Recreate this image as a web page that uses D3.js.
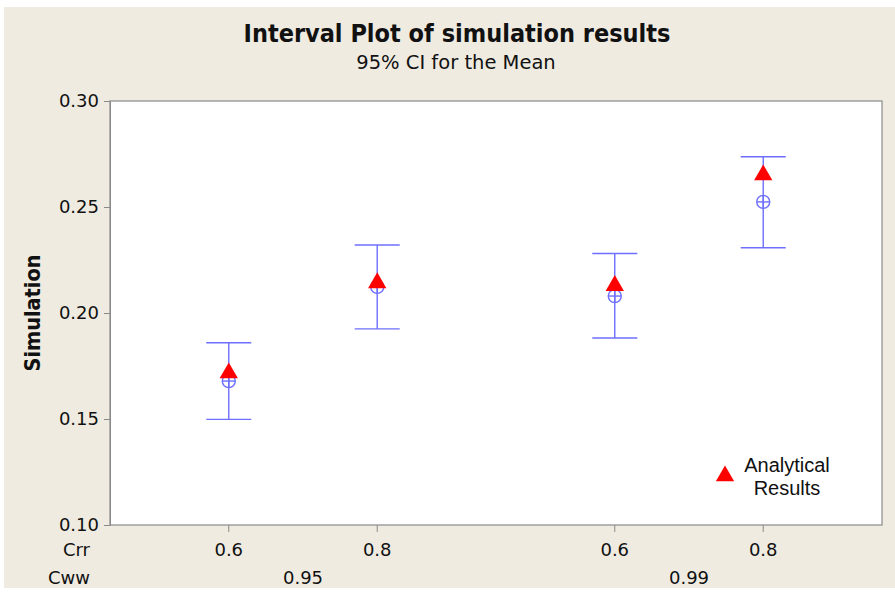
<!DOCTYPE html>
<html>
<head>
<meta charset="utf-8">
<script src="https://cdn.jsdelivr.net/npm/d3@7"></script>
<style>
  body { margin: 0; background: #fff; }
</style>
</head>
<body>
<div id="chart"></div>
<script>
// groups and categories
var cwwLevels = ["0.95", "0.99"];
var crrLevels = ["0.6", "0.8"];
// simulation: mean and 95% CI, per (cww, crr)
var simCww = ["0.95", "0.95", "0.99", "0.99"];
var simCrr = ["0.6", "0.8", "0.6", "0.8"];
var simMean = [0.1679, 0.2123, 0.2080, 0.2524];
var simLower = [0.1498, 0.1925, 0.1882, 0.2308];
var simUpper = [0.1860, 0.2321, 0.2281, 0.2737];
// analytical results
var analytical = [0.1717, 0.2142, 0.2129, 0.2651];
var yTicks = [0.10, 0.15, 0.20, 0.25, 0.30];

var W = 895, H = 599;
var margin = {left: 110, top: 101, right: 13, bottom: 74};
var blue = "#6f6fff";
var sans = "'DejaVu Sans', Verdana, sans-serif";
var cond = "'DejaVu Sans Condensed', 'DejaVu Sans', sans-serif";

var svg = d3.select("#chart").append("svg")
    .attr("width", W).attr("height", H)
    .style("font-family", sans);

// beige frame
svg.append("rect").attr("x", 4).attr("y", 7).attr("width", W - 4).attr("height", 581)
    .attr("fill", "#efebe1");

var x0 = d3.scaleBand().domain(cwwLevels).range([margin.left, W - margin.right]);
var x1 = d3.scalePoint().domain(crrLevels).range([0, x0.bandwidth()]).padding(0.8);
var y = d3.scaleLinear().domain([0.10, 0.30]).range([H - margin.bottom, margin.top]);

function xpos(i) { return x0(simCww[i]) + x1(simCrr[i]); }

// plot area
svg.append("rect")
    .attr("x", margin.left).attr("y", margin.top)
    .attr("width", W - margin.right - margin.left)
    .attr("height", H - margin.bottom - margin.top)
    .attr("fill", "#fff").attr("stroke", "#8a8a8a").attr("stroke-width", 1.2);

// y axis
var yAxis = svg.append("g")
    .attr("transform", "translate(" + margin.left + ",0)")
    .call(d3.axisLeft(y).tickValues(yTicks).tickFormat(d3.format(".2f")).tickSize(6).tickPadding(5));
yAxis.attr("font-family", null).attr("font-size", null);
yAxis.select(".domain").attr("stroke", "#8a8a8a");
yAxis.selectAll(".tick line").attr("stroke", "#8a8a8a");
yAxis.selectAll("text").style("font-size", "18px").attr("fill", "#111");

// x axis ticks
var xg = svg.append("g");
var idx = d3.range(simMean.length);
xg.selectAll("line").data(idx).enter().append("line")
    .attr("x1", xpos).attr("x2", xpos)
    .attr("y1", H - margin.bottom).attr("y2", H - margin.bottom + 7)
    .attr("stroke", "#8a8a8a");
xg.selectAll("text.crr").data(idx).enter().append("text")
    .attr("class", "crr")
    .attr("x", xpos).attr("y", 556)
    .attr("text-anchor", "middle").style("font-size", "18px").attr("fill", "#111")
    .text(function(i) { return simCrr[i]; });
xg.selectAll("text.cww").data(cwwLevels).enter().append("text")
    .attr("class", "cww")
    .attr("x", function(d) { return x0(d) + x0.bandwidth() / 2; })
    .attr("y", 584)
    .attr("text-anchor", "middle").style("font-size", "18px").attr("fill", "#111")
    .text(function(d) { return d; });
svg.append("text").attr("x", 90).attr("y", 556).attr("text-anchor", "end")
    .style("font-size", "18px").attr("fill", "#111").text("Crr");
svg.append("text").attr("x", 90).attr("y", 584).attr("text-anchor", "end")
    .style("font-size", "18px").attr("fill", "#111").text("Cww");

// y label
svg.append("text")
    .attr("transform", "translate(40," + y(0.20) + ") rotate(-90)")
    .attr("text-anchor", "middle")
    .style("font-family", cond).style("font-size", "21.5px").style("font-weight", "bold")
    .attr("fill", "#111").text("Simulation");

// titles
svg.append("text").attr("x", 457).attr("y", 42).attr("text-anchor", "middle")
    .style("font-family", cond).style("font-size", "25px").style("font-weight", "bold")
    .attr("fill", "#111")
    .text("Interval Plot of simulation results");
svg.append("text").attr("x", 456).attr("y", 69).attr("text-anchor", "middle")
    .style("font-size", "19.5px").attr("fill", "#111")
    .text("95% CI for the Mean");

// intervals
var g = svg.append("g").attr("stroke", blue).attr("stroke-width", 1.4).attr("fill", "none");
g.selectAll("line.stem").data(idx).enter().append("line")
    .attr("x1", xpos).attr("x2", xpos)
    .attr("y1", function(i) { return y(simLower[i]); })
    .attr("y2", function(i) { return y(simUpper[i]); });
g.selectAll("line.up").data(idx).enter().append("line")
    .attr("x1", function(i) { return xpos(i) - 22.5; })
    .attr("x2", function(i) { return xpos(i) + 22.5; })
    .attr("y1", function(i) { return y(simUpper[i]); })
    .attr("y2", function(i) { return y(simUpper[i]); });
g.selectAll("line.lo").data(idx).enter().append("line")
    .attr("x1", function(i) { return xpos(i) - 22.5; })
    .attr("x2", function(i) { return xpos(i) + 22.5; })
    .attr("y1", function(i) { return y(simLower[i]); })
    .attr("y2", function(i) { return y(simLower[i]); });
// mean symbol: circle with cross
var m = g.selectAll("g.mean").data(idx).enter().append("g")
    .attr("transform", function(i) { return "translate(" + xpos(i) + "," + y(simMean[i]) + ")"; });
m.append("circle").attr("r", 6.5);
m.append("line").attr("x1", -6.5).attr("x2", 6.5);
m.append("line").attr("y1", -6.5).attr("y2", 6.5);

// analytical triangles
var tri = d3.symbol().type(d3.symbolTriangle).size(145);
svg.selectAll("path.tri").data(idx).enter().append("path")
    .attr("d", tri)
    .attr("transform", function(i) { return "translate(" + xpos(i) + "," + y(analytical[i]) + ")"; })
    .attr("fill", "#ff0000");

// legend
svg.append("path").attr("d", tri).attr("transform", "translate(725,476)").attr("fill", "#ff0000");
svg.append("text").attr("x", 787).attr("y", 472).attr("text-anchor", "middle")
    .style("font-family", "'Liberation Sans', Arial, sans-serif").style("font-size", "20px")
    .attr("fill", "#111").text("Analytical");
svg.append("text").attr("x", 787).attr("y", 495).attr("text-anchor", "middle")
    .style("font-family", "'Liberation Sans', Arial, sans-serif").style("font-size", "20px")
    .attr("fill", "#111").text("Results");
</script>
</body>
</html>
